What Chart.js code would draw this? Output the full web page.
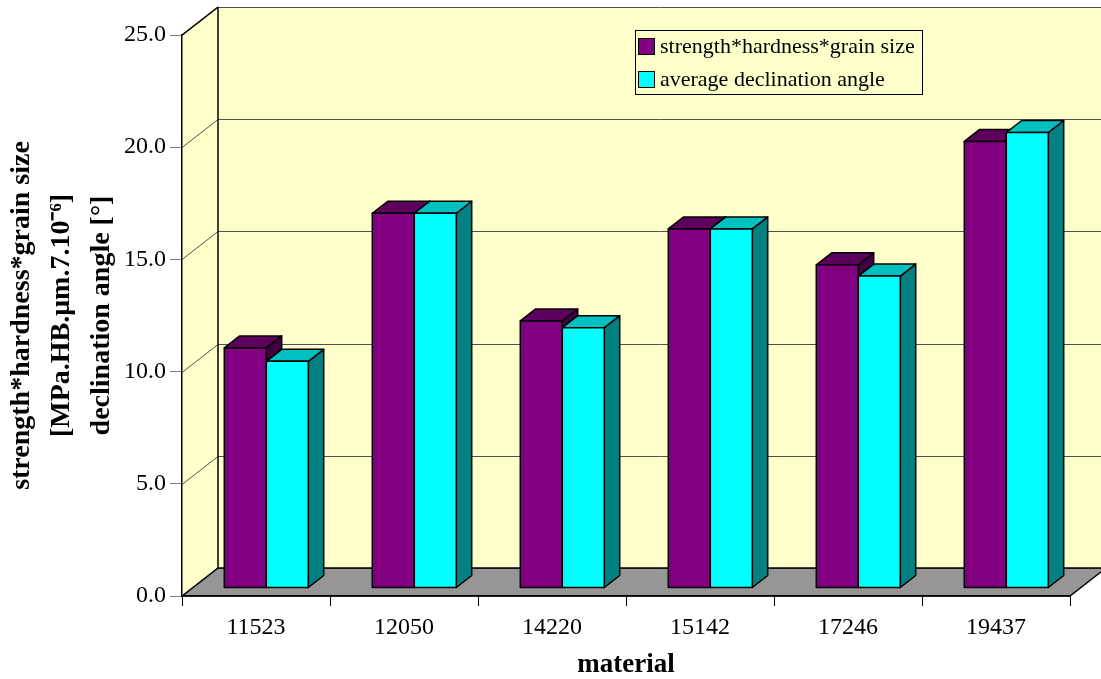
<!DOCTYPE html>
<html>
<head>
<meta charset="utf-8">
<script src="https://cdn.jsdelivr.net/npm/chart.js@4/dist/chart.umd.min.js"></script>
<style>
  body { margin: 0; background: #fff; }
  #wrap { width: 1101px; height: 679px; }
</style>
</head>
<body>
<div id="wrap"><canvas id="materialChart" width="1101" height="679"></canvas></div>
<script>
// 재료별 값
const materials = ['11523', '12050', '14220', '15142', '17246', '19437'];
const strengthHardness = [10.7, 16.7, 11.9, 16.0, 14.4, 19.9];
const declinationAngle = [10.1, 16.7, 11.6, 16.0, 13.9, 20.3];
const yTitle = ['strength*hardness*grain size', '[MPa.HB.\u03BCm.7.10\u207B\u2076]', 'declination angle [\u00B0]'];

const FONT = "'Liberation Serif', 'Times New Roman', serif";
const WALL = '#FFFFCC';
const FLOOR = '#969696';
// 3D 깊이 (앞면 -> 뒷벽)
const DX = 36, DY = 28;
const FRONT = 8 / 28, DEPTH = 12 / 28;

// 막대 색 (앞, 위, 옆)
const faces = [
    { front: '#800080', top: '#5E005E', side: '#420042' },
    { front: '#00FFFF', top: '#00C0C0', side: '#008080' }
];

function poly(ctx, pts) {
    ctx.beginPath();
    ctx.moveTo(pts[0][0], pts[0][1]);
    for (let i = 1; i < pts.length; i++) ctx.lineTo(pts[i][0], pts[i][1]);
    ctx.closePath();
}

function seg(ctx, x1, y1, x2, y2) {
    ctx.beginPath();
    ctx.moveTo(x1, y1);
    ctx.lineTo(x2, y2);
    ctx.stroke();
}

const threeD = {
    id: 'threeD',
    beforeDraw(chart) {
        const { ctx, chartArea: a, scales: { y } } = chart;
        const L = a.left, R = a.right, T = a.top, B = a.bottom;
        ctx.save();
        // 옆벽 + 뒷벽
        ctx.fillStyle = WALL;
        poly(ctx, [[L, T], [L + DX, T - DY], [L + DX, B - DY], [L, B]]);
        ctx.fill();
        ctx.fillRect(L + DX, T - DY, chart.width - L - DX, B - T);
        // 바닥
        ctx.fillStyle = FLOOR;
        poly(ctx, [[L, B], [L + DX, B - DY], [R + DX, B - DY], [R, B]]);
        ctx.fill();
        // 눈금선
        ctx.strokeStyle = '#505050';
        ctx.lineWidth = 1;
        y.ticks.forEach(t => {
            const py = Math.round(y.getPixelForValue(t.value)) + 0.5;
            seg(ctx, L, py, L + DX, py - DY);
            seg(ctx, L + DX, py - DY, chart.width, py - DY);
        });
        // 테두리
        ctx.strokeStyle = '#000';
        ctx.lineWidth = 1.5;
        seg(ctx, L, T, L + DX, T - DY);
        seg(ctx, L + DX, T - DY, L + DX, B - DY);
        poly(ctx, [[L, B], [L + DX, B - DY], [R + DX, B - DY], [R, B]]);
        ctx.stroke();
        ctx.restore();
    },
    beforeDatasetsDraw(chart) {
        const { ctx } = chart;
        const ox = DX * FRONT, oy = DY * FRONT;
        const bx = DX * DEPTH, by = DY * DEPTH;
        ctx.save();
        ctx.strokeStyle = '#000';
        ctx.lineWidth = 1.5;
        ctx.lineJoin = 'round';
        for (let i = 0; i < materials.length; i++) {
            chart.data.datasets.forEach((ds, d) => {
                const el = chart.getDatasetMeta(d).data[i];
                const l = el.x - el.width / 2 + ox;
                const r = l + el.width;
                const t = el.y - oy;
                const b = el.base - oy;
                const c = faces[d];
                ctx.fillStyle = c.side;
                poly(ctx, [[r, t], [r + bx, t - by], [r + bx, b - by], [r, b]]);
                ctx.fill(); ctx.stroke();
                ctx.fillStyle = c.top;
                poly(ctx, [[l, t], [r, t], [r + bx, t - by], [l + bx, t - by]]);
                ctx.fill(); ctx.stroke();
                ctx.fillStyle = c.front;
                poly(ctx, [[l, t], [r, t], [r, b], [l, b]]);
                ctx.fill(); ctx.stroke();
            });
        }
        ctx.restore();
        return false;
    },
    afterDraw(chart) {
        // 범례
        const { ctx } = chart;
        ctx.save();
        ctx.fillStyle = WALL;
        ctx.fillRect(635, 30, 287, 64);
        ctx.strokeStyle = '#000';
        ctx.lineWidth = 1;
        ctx.strokeRect(635.5, 30.5, 287, 64);
        ctx.font = '22px ' + FONT;
        ctx.textBaseline = 'middle';
        chart.data.datasets.forEach((ds, d) => {
            const cy = 46 + d * 33;
            ctx.fillStyle = ds.backgroundColor;
            ctx.fillRect(638, cy - 8, 16, 16);
            ctx.strokeRect(638.5, cy - 7.5, 16, 16);
            ctx.fillStyle = '#000';
            ctx.fillText(ds.label, 660, cy + 1);
        });
        ctx.restore();
    }
};

const ctxM = document.getElementById('materialChart');
const materialChart = new Chart(ctxM, {
    type: 'bar',
    data: {
        labels: materials,
        datasets: [
            {
                label: 'strength*hardness*grain size',
                data: strengthHardness,
                backgroundColor: '#800080',
                borderColor: '#000',
                borderWidth: 1
            },
            {
                label: 'average declination angle',
                data: declinationAngle,
                backgroundColor: '#00FFFF',
                borderColor: '#000',
                borderWidth: 1
            }
        ]
    },
    options: {
        responsive: false,
        animation: false,
        layout: { padding: { top: 35, right: 31, left: 0, bottom: 0 } },
        datasets: {
            bar: { categoryPercentage: 84 / 148, barPercentage: 1 }
        },
        scales: {
            x: {
                afterFit: s => { s.height = 83; },
                grid: { drawOnChartArea: false, offset: true, tickLength: 10, color: '#000' },
                border: { color: '#000', width: 1.5 },
                ticks: { color: '#000', padding: 7, font: { family: FONT, size: 24 } },
                title: {
                    display: true,
                    text: 'material',
                    color: '#000',
                    padding: { top: 0, bottom: 0 },
                    font: { family: FONT, size: 27, weight: 'bold', lineHeight: 1.05 }
                }
            },
            y: {
                min: 0,
                max: 25,
                afterFit: s => { s.width = 182; },
                grid: { drawOnChartArea: false, tickLength: 12, color: '#808080' },
                border: { color: '#000', width: 1.5 },
                ticks: {
                    stepSize: 5,
                    padding: 4,
                    color: '#000',
                    font: { family: FONT, size: 24 },
                    callback: v => v.toFixed(1)
                },
                title: {
                    display: true,
                    text: yTitle,
                    color: '#000',
                    padding: { top: 2, bottom: 0 },
                    font: { family: FONT, size: 28, weight: 'bold', lineHeight: 1.43 }
                }
            }
        },
        plugins: {
            legend: { display: false },
            tooltip: { enabled: false }
        }
    },
    plugins: [threeD]
});
</script>
</body>
</html>
